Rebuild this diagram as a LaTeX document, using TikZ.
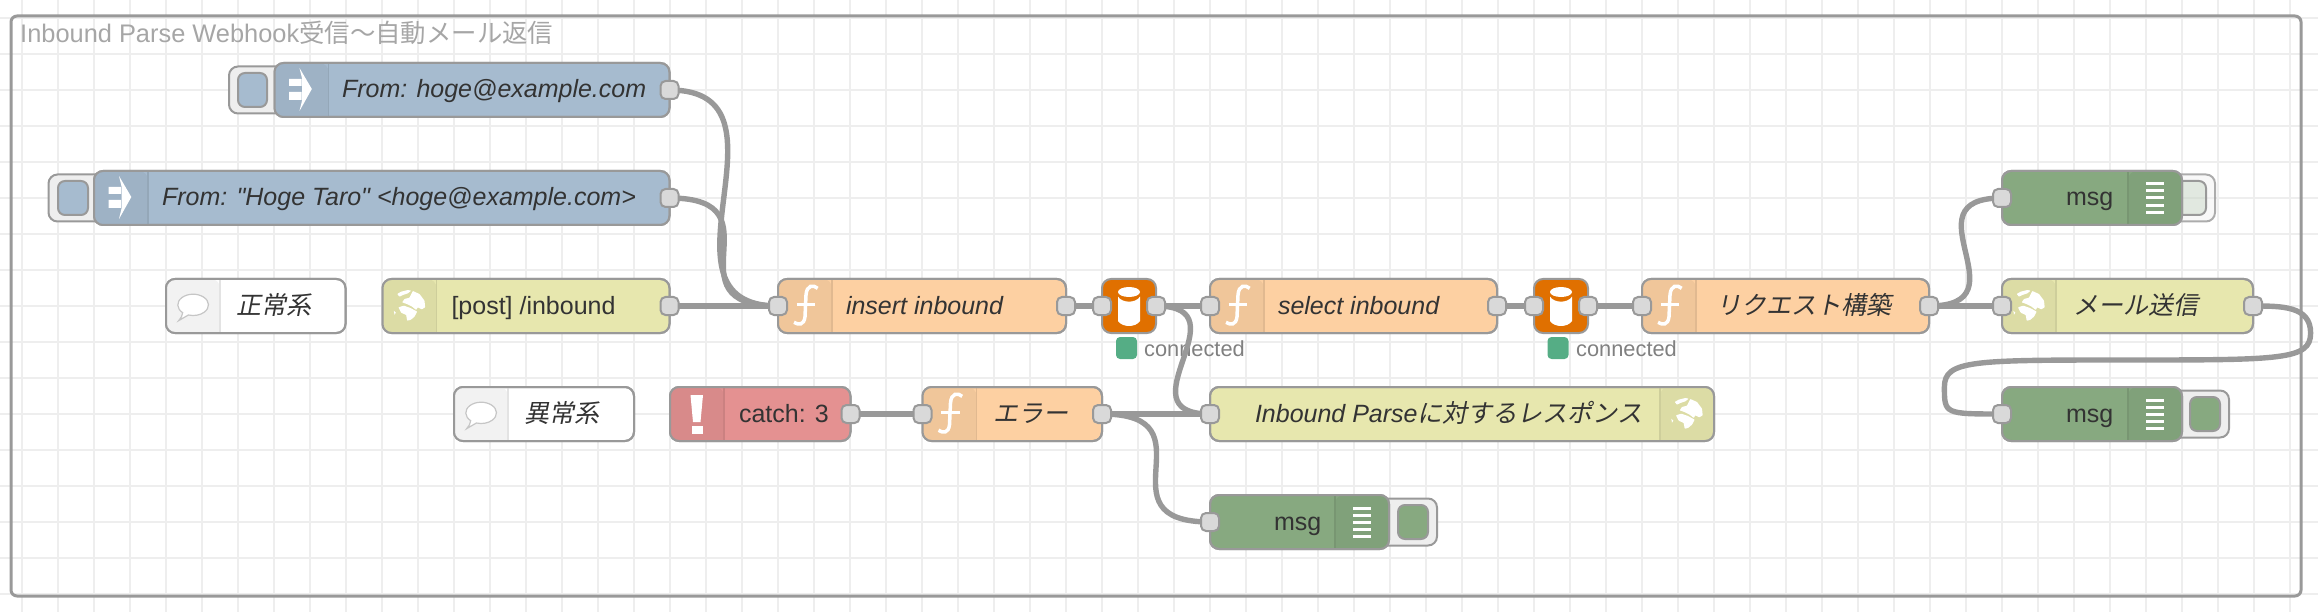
\documentclass[tikz,border=0pt]{standalone}
\usepackage{fontspec}
\setmainfont{Liberation Sans}[Ligatures=TeXOff]
\newfontfamily\jp[AutoFakeSlant=0.2]{Noto Sans CJK JP}
\usepackage{tikz}

\definecolor{wirecol}{HTML}{999999}
\definecolor{gridcol}{HTML}{EEEEEE}
\definecolor{txtcol}{HTML}{333333}
\definecolor{injfill}{HTML}{A6BBCF}
\definecolor{httpfill}{HTML}{E7E7AE}
\definecolor{fnfill}{HTML}{FDD0A2}
\definecolor{dbfill}{HTML}{E07000}
\definecolor{dbgfill}{HTML}{87A980}
\definecolor{catchfill}{HTML}{E49191}
\definecolor{okfill}{HTML}{55AD85}

\pgfdeclarelayer{bg}
\pgfdeclarelayer{wires}
\pgfsetlayers{bg,wires,main}

\tikzset{
  nrbox/.style={draw=wirecol, line width=2pt, rounded corners=9pt, minimum height=54pt,
    outer sep=0pt, inner sep=0pt, text=txtcol, text height=20pt, text depth=4pt,
    font=\fontsize{25}{30}\selectfont},
  nrit/.style={font=\fontsize{25}{30}\selectfont\itshape},
  port/.style={draw=wirecol, fill=gray!30, line width=2pt, rounded corners=5pt,
    minimum width=18pt, minimum height=18pt, inner sep=0pt, outer sep=0pt},
  btnout/.style={draw=wirecol, fill=gridcol, line width=2pt, rounded corners=9pt,
    minimum height=47pt, inner sep=0pt, outer sep=0pt},
  btnin/.style={draw=wirecol, line width=2pt, rounded corners=7pt,
    minimum height=34pt, inner sep=0pt, outer sep=0pt},
  wire/.style={draw=wirecol, line width=5.4pt},
  gridline/.style={draw=gridcol, line width=2pt},
  statdot/.style={fill=okfill, rounded corners=4pt, minimum width=21pt, minimum height=22pt,
    inner sep=0pt, outer sep=0pt},
  stattext/.style={text=gray, inner sep=0pt, anchor=west, font=\fontsize{21.8}{25}\selectfont},
  iconunits/.style={x=0.3333pt, y=-0.3333pt}
}

\newcommand{\nrflow}[8]{%
  \pgfmathsetmacro{\nrw}{#3-#2}%
  \node (#1) [nrbox, #8, fill=#5, minimum width=\nrw pt] at ({(#2+#3)/2},#4) {\makebox[\nrw pt][l]{\hspace{#6pt}#7}};%
}
\newcommand{\leftshade}[2]{%
  \fill[#2!95!black, rounded corners=9pt] ([xshift=54pt]#1.south west) -- (#1.south west) -- (#1.north west) -- ([xshift=54pt]#1.north west) [sharp corners] -- cycle;%
  \draw[#2!89!black, line width=1.5pt] ([xshift=54pt]#1.south west) -- ([xshift=54pt]#1.north west);%
  \draw[wirecol, line width=2pt, rounded corners=9pt] (#1.south west) rectangle (#1.north east);%
}
\newcommand{\rightshade}[2]{%
  \fill[#2!95!black, rounded corners=9pt] ([xshift=-54pt]#1.south east) -- (#1.south east) -- (#1.north east) -- ([xshift=-54pt]#1.north east) [sharp corners] -- cycle;%
  \draw[#2!89!black, line width=1.5pt] ([xshift=-54pt]#1.south east) -- ([xshift=-54pt]#1.north east);%
  \draw[wirecol, line width=2pt, rounded corners=9pt] (#1.south west) rectangle (#1.north east);%
}
\newcommand{\injicon}[1]{%
  \begin{scope}[iconunits, shift={([xshift=27pt]#1.west)}]
    \fill[white] (-37,-33) rectangle (0,-12) (-37,6) rectangle (0,30);
    \fill[white] (-6,-66) -- (31,-3) -- (-6,63) -- (2,30) -- (2,-33) -- cycle;
  \end{scope}%
}
\newcommand{\globeicon}[1]{%
  \begin{scope}[iconunits, shift={(#1)}, yshift=1pt]
    \fill[white, rounded corners=0.5pt] (-37,-33) -- (-25,-40) -- (-5,-45) -- (5,-43) -- (-5,-35) -- (-20,-30) -- (-30,-25) -- cycle;
    \fill[white, rounded corners=0.5pt] (10,-42) -- (30,-33) -- (45,-13) -- (47,7) -- (37,13) -- (25,7) -- (20,15) -- (8,5) -- (-8,-3) -- (-22,-8) -- (-15,-18) -- (0,-22) -- (5,-32) -- cycle;
    \fill[white, rounded corners=0.5pt] (-33,7) -- (-17,2) -- (3,9) -- (23,20) -- (15,35) -- (3,45) -- (-7,47) -- (-10,30) -- (-25,23) -- cycle;
    \fill[white] (-47,17) -- (-41,23) -- (-45,29) -- cycle;
  \end{scope}%
}
\newcommand{\fnicon}[1]{%
  \begin{scope}[iconunits, shift={([xshift=27pt,yshift=1pt]#1.west)}]
    \draw[white, line width=3.5pt] (38,-50) .. controls (25,-62) and (5,-60) .. (3,-30) -- (0,35) .. controls (-3,62) and (-20,60) .. (-33,52);
    \draw[white, line width=3pt] (-25,-2) -- (30,-2);
  \end{scope}%
}
\newcommand{\dbicon}[1]{%
  \begin{scope}[iconunits, shift={(#1.center)}]
    \fill[white] (0,-42) ellipse [x radius=33, y radius=15];
    \fill[white] (-33,-28) .. controls (-20,-8) and (20,-8) .. (33,-28) -- (33,45) .. controls (20,65) and (-20,65) .. (-33,45) -- cycle;
  \end{scope}%
}
\newcommand{\dbgicon}[1]{%
  \begin{scope}[iconunits, shift={(#1.east)}]
    \foreach \barY in {-42,-21,0,22,43}
      \fill[white] (-108,\barY-4.5) rectangle (-54,\barY+4.5);
  \end{scope}%
}
\newcommand{\noteicon}[1]{%
  \begin{scope}[iconunits, shift={([xshift=27pt,yshift=1pt]#1.west)}]
    \draw[gray!45, fill=white, line width=1.2pt] (-31,23) arc [start angle=133, end angle=468, x radius=46, y radius=32] -- (-43,47) .. controls (-36,40) and (-32,32) .. cycle;
  \end{scope}%
}

\begin{document}
\begin{tikzpicture}[x=1pt, y=-1pt]
  \useasboundingbox (0,0) rectangle (2318,612);

  \begin{pgfonlayer}{bg}
    \foreach \gridX in {0,...,63}
      \draw[gridline] ({22+36*\gridX},0) -- ({22+36*\gridX},612);
    \foreach \gridY in {0,...,16}
      \draw[gridline] (0,{18+36*\gridY}) -- (2318,{18+36*\gridY});
    \draw[wirecol, line width=3pt, rounded corners=6pt] (11,16) rectangle (2301,596);
    \node (grouptitle) [anchor=west, inner sep=0pt, text=gray!70, font=\fontsize{25.4}{30}\selectfont] at (20,33) {Inbound Parse Webhook{\jp 受信〜自動メール返信}};
    \node (dbonedot) [statdot] at (1126.5,348) {};
    \node (dbonetext) [stattext] at (1144,349) {connected};
    \node (dbtwodot) [statdot] at (1558,348) {};
    \node (dbtwotext) [stattext] at (1576,349) {connected};
  \end{pgfonlayer}

  \node (injonebtn) [btnout, minimum width=61pt] at (259.5,90) {};
  \node (injonepush) [btnin, fill=injfill, minimum width=29pt] at (252.5,90) {};
  \node (injtwobtn) [btnout, minimum width=61pt] at (79,198) {};
  \node (injtwopush) [btnin, fill=injfill, minimum width=30pt] at (73,198) {};
  \node (msgonebtn) [btnout, fill opacity=0.4, draw opacity=0.8, minimum width=50pt] at (2190,198) {};
  \node (msgonepush) [btnin, fill=dbgfill, fill opacity=0.2, minimum width=46pt] at (2183,198) {};
  \node (msgtwobtn) [btnout, minimum width=64pt] at (2197,414) {};
  \node (msgtwopush) [btnin, fill=dbgfill, minimum width=30pt] at (2205,414) {};
  \node (msgthreebtn) [btnout, minimum width=62pt] at (1406,522) {};
  \node (msgthreepush) [btnin, fill=dbgfill, minimum width=30pt] at (1413,522) {};

  \nrflow{injone}{274.5}{669.5}{90}{injfill}{67.5}{From: hoge@example.com}{nrit}
  \nrflow{injtwo}{94}{669.5}{198}{injfill}{68}{From: "Hoge Taro" <hoge@example.com>}{nrit}
  \nrflow{noteok}{166}{345.5}{306}{white}{70}{\jp 正常系}{nrit}
  \nrflow{httpin}{382.5}{669.5}{306}{httpfill}{69}{[post] /inbound}{}
  \nrflow{insert}{778}{1066}{306}{fnfill}{68}{insert inbound}{nrit}
  \nrflow{dbone}{1102}{1156}{306}{dbfill}{0}{}{}
  \nrflow{select}{1210}{1497}{306}{fnfill}{68}{select inbound}{nrit}
  \nrflow{dbtwo}{1534}{1588}{306}{dbfill}{0}{}{}
  \nrflow{request}{1642}{1929}{306}{fnfill}{74}{\jp リクエスト構築}{nrit}
  \nrflow{msgone}{2002}{2182}{198}{dbgfill}{64}{msg}{}
  \nrflow{mail}{2002}{2253}{306}{httpfill}{71}{\jp メール送信}{nrit}
  \nrflow{msgtwo}{2002}{2182}{414}{dbgfill}{64}{msg}{}
  \nrflow{noteng}{454}{634}{414}{white}{70}{\jp 異常系}{nrit}
  \nrflow{catch}{670}{850.5}{414}{catchfill}{69}{catch: 3}{}
  \nrflow{error}{922.5}{1102}{414}{fnfill}{70.5}{\jp エラー}{nrit}
  \nrflow{response}{1210}{1714}{414}{httpfill}{45}{Inbound Parse{\jp に対するレスポンス}}{nrit}
  \nrflow{msgthree}{1210}{1389}{522}{dbgfill}{64}{msg}{}

  \leftshade{injone}{injfill} \injicon{injone}
  \leftshade{injtwo}{injfill} \injicon{injtwo}
  \leftshade{noteok}{white} \noteicon{noteok}
  \leftshade{noteng}{white} \noteicon{noteng}
  \leftshade{httpin}{httpfill} \globeicon{[xshift=27pt]httpin.west}
  \leftshade{mail}{httpfill} \globeicon{[xshift=27pt]mail.west}
  \rightshade{response}{httpfill} \globeicon{[xshift=-27pt]response.east}
  \leftshade{insert}{fnfill} \fnicon{insert}
  \leftshade{select}{fnfill} \fnicon{select}
  \leftshade{request}{fnfill} \fnicon{request}
  \leftshade{error}{fnfill} \fnicon{error}
  \leftshade{catch}{catchfill}
  \rightshade{msgone}{dbgfill} \dbgicon{msgone}
  \rightshade{msgtwo}{dbgfill} \dbgicon{msgtwo}
  \rightshade{msgthree}{dbgfill} \dbgicon{msgthree}
  \dbicon{dbone}
  \dbicon{dbtwo}
  \fill[white] ([xshift=20.5pt,yshift=19pt]catch.west) -- ([xshift=33pt,yshift=19pt]catch.west) -- ([xshift=30.5pt,yshift=-8pt]catch.west) -- ([xshift=23pt,yshift=-8pt]catch.west) -- cycle;
  \fill[white] ([xshift=21.5pt,yshift=-12pt]catch.west) rectangle ([xshift=32.5pt,yshift=-20pt]catch.west);

  \node (injoneout) [port] at (injone.east) {};
  \node (injtwoout) [port] at (injtwo.east) {};
  \node (httpinout) [port] at (httpin.east) {};
  \node (insertin) [port] at (insert.west) {};
  \node (insertout) [port] at (insert.east) {};
  \node (dbonein) [port] at (dbone.west) {};
  \node (dboneout) [port] at (dbone.east) {};
  \node (selectin) [port] at (select.west) {};
  \node (selectout) [port] at (select.east) {};
  \node (dbtwoin) [port] at (dbtwo.west) {};
  \node (dbtwoout) [port] at (dbtwo.east) {};
  \node (requestin) [port] at (request.west) {};
  \node (requestout) [port] at (request.east) {};
  \node (msgonein) [port] at (msgone.west) {};
  \node (mailin) [port] at (mail.west) {};
  \node (mailout) [port] at (mail.east) {};
  \node (msgtwoin) [port] at (msgtwo.west) {};
  \node (catchout) [port] at (catch.east) {};
  \node (errorin) [port] at (error.west) {};
  \node (errorout) [port] at (error.east) {};
  \node (responsein) [port] at (response.west) {};
  \node (msgthreein) [port] at (msgthree.west) {};

  \begin{pgfonlayer}{wires}
    \draw[wire] (injoneout.center) .. controls +(135,0) and +(-135,0) .. (insertin.center);
    \draw[wire] (injtwoout.center) .. controls +(114.5,0) and +(-114.5,0) .. (insertin.center);
    \draw[wire] (httpinout.center) -- (insertin.center);
    \draw[wire] (insertout.center) -- (dbonein.center);
    \draw[wire] (dboneout.center) -- (selectin.center);
    \draw[wire] (dboneout.center) .. controls +(90.5,0) and +(-90.5,0) .. (responsein.center);
    \draw[wire] (selectout.center) -- (dbtwoin.center);
    \draw[wire] (dbtwoout.center) -- (requestin.center);
    \draw[wire] (requestout.center) .. controls +(98,0) and +(-98,0) .. (msgonein.center);
    \draw[wire] (requestout.center) -- (mailin.center);
    \draw[wire] (mailout.center) .. controls (2281.8,306) and (2310.6,306) .. (2310.6,333)
      .. controls (2310.6,360) and (2281.8,360) .. (2127.5,360)
      .. controls (1973.2,360) and (1944.4,360) .. (1944.4,387)
      .. controls (1944.4,414) and (1944.4,414) .. (msgtwoin.center);
    \draw[wire] (catchout.center) -- (errorin.center);
    \draw[wire] (errorout.center) -- (responsein.center);
    \draw[wire] (errorout.center) .. controls +(114.5,0) and +(-114.5,0) .. (msgthreein.center);
  \end{pgfonlayer}
\end{tikzpicture}
\end{document}
